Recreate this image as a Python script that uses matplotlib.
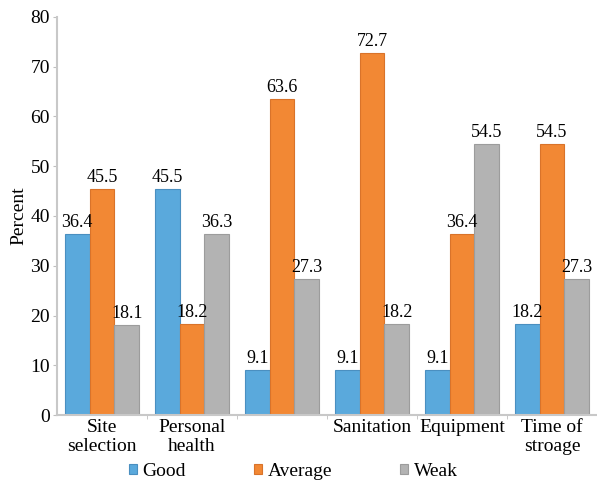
import matplotlib
matplotlib.use("Agg")
import matplotlib.pyplot as plt
import numpy as np

categories = ["Site\nselection", "Personal\nhealth", "", "Sanitation", "Equipment", "Time of\nstroage"]
series_names = ["Good", "Average", "Weak"]
good = [36.4, 45.5, 9.1, 9.1, 9.1, 18.2]
average = [45.5, 18.2, 63.6, 72.7, 36.4, 54.5]
weak = [18.1, 36.3, 27.3, 18.2, 54.5, 27.3]
y_ticks = [0, 10, 20, 30, 40, 50, 60, 70, 80]

colors = ["#5aa9dc", "#f28834", "#b3b3b3"]
edges = ["#4a8fc0", "#d9732a", "#9c9c9c"]

serif = ["Liberation Serif", "DejaVu Serif"]
plt.rcParams["font.family"] = serif

fig = plt.figure(figsize=(5.97, 4.80), dpi=100)
ax = fig.add_axes([57 / 597, 1 - 415 / 480, 540 / 597, 398 / 480])

x = np.arange(len(categories))
w = 0.275
for i, (vals, name) in enumerate(zip([good, average, weak], series_names)):
    pos = x + (i - 1) * w
    ax.bar(pos, vals, width=w, color=colors[i], edgecolor=edges[i],
           linewidth=0.8, label=name)
    for p, v in zip(pos, vals):
        ax.text(p, v + 0.6, f"{v}", ha="center", va="bottom", fontsize=13,
                family=serif)

ax.set_xlim(-0.5, len(categories) - 0.5)
ax.set_ylim(0, 80)
ax.set_yticks(y_ticks)
ax.set_yticklabels([str(t) for t in y_ticks], fontsize=14, family=serif)
ax.set_xticks(x)
ax.set_xticklabels(categories, fontsize=14, linespacing=1.15, family=serif)
ax.tick_params(axis="x", length=0, pad=3)
ax.tick_params(axis="y", length=3, color="#bfbfbf", pad=2)
ax.set_xticks(np.arange(0.5, len(categories) - 0.5, 1), minor=True)
ax.tick_params(axis="x", which="minor", length=3, color="#bfbfbf")

for s in ["top", "right"]:
    ax.spines[s].set_visible(False)
for s in ["left", "bottom"]:
    ax.spines[s].set_color("#c8c8c8")
    ax.spines[s].set_linewidth(1.5)

ax.set_ylabel("Percent", fontsize=14, labelpad=2, family=serif)

ax.legend(loc="center left", bbox_to_anchor=((129 - 57) / 540, -0.142), ncol=3,
          frameon=False, prop={"family": serif, "size": 14},
          handlelength=0.4, handleheight=0.4,
          handletextpad=0.3, columnspacing=3.5, borderaxespad=0, borderpad=0)

fig.savefig("out.png", dpi=100)
